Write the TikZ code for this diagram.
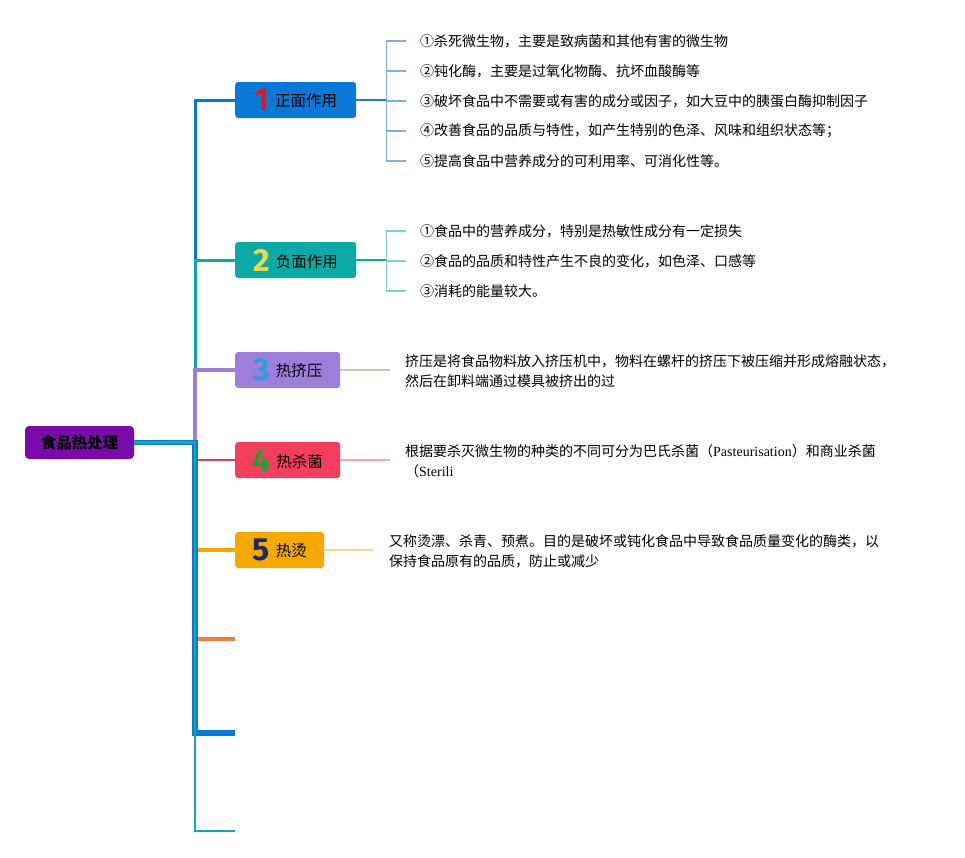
\documentclass[tikz,border=0pt]{standalone}
\usepackage{fontspec}
\usepackage{tikz}
\setmainfont{Noto Sans CJK SC}
\newfontfamily\numfont{Fira Sans}
\newfontfamily\latinserif{Liberation Serif}

\definecolor{rootcol}{HTML}{7A0BA8}
\definecolor{c1}{HTML}{0A78D7}
\definecolor{c2}{HTML}{0AABA5}
\definecolor{c3}{HTML}{9D7FDB}
\definecolor{c4}{HTML}{F53D5E}
\definecolor{c5}{HTML}{F4A800}
\definecolor{c6}{HTML}{F27B3C}
\definecolor{c8}{HTML}{17A6AE}
\definecolor{n1}{HTML}{D91A2A}
\definecolor{n2}{HTML}{F2D84B}
\definecolor{n3}{HTML}{2D9BE5}
\definecolor{n4}{HTML}{2B9B3A}
\definecolor{n5}{HTML}{1F2766}
\definecolor{l4}{HTML}{C8475A}
\definecolor{s1}{HTML}{7DB0DC}
\definecolor{s1dark}{HTML}{2D7CC0}
\definecolor{s2}{HTML}{86D0CC}
\definecolor{s3}{HTML}{C8BFE6}
\definecolor{s4}{HTML}{F2A7B6}
\definecolor{s5}{HTML}{F5D98E}

\newcommand{\topicnum}[2]{\raisebox{-4pt}{\numfont\bfseries\fontsize{32}{32}\selectfont\color{#1}#2}\hspace{6pt}}

\tikzset{
    rootbox/.style={fill=rootcol, rounded corners=4pt, minimum width=109pt, minimum height=33pt, inner sep=0pt, font=\fontsize{15.5}{18}\selectfont\bfseries},
    topic/.style={fill=#1, rounded corners=3pt, minimum height=36pt, inner sep=0pt, anchor=west, font=\fontsize{15.5}{18}\selectfont},
    item/.style={anchor=west, inner sep=0pt, align=left, font=\fontsize{14}{20}\selectfont}
}

\begin{document}
\begin{tikzpicture}[x=1pt,y=-1pt]
    \useasboundingbox[fill=white] (0,0) rectangle (965,857);

    \node[rootbox] (root) at (79.5,442.5) {食品热处理};
    \coordinate (trunk) at (195,442.5);

    \node[topic=c1, minimum width=121pt] (t1) at (235,100) {\topicnum{n1}{1}正面作用};
    \node[topic=c2, minimum width=121pt] (t2) at (235,260) {\topicnum{n2}{2}负面作用};
    \node[topic=c3, minimum width=105pt] (t3) at (235,370) {\topicnum{n3}{3}热挤压};
    \node[topic=c4, minimum width=105pt] (t4) at (235,460) {\topicnum{n4}{4}热杀菌};
    \node[topic=c5, minimum width=89pt] (t5) at (235,550) {\topicnum{n5}{5}热烫};
    \coordinate (e6) at (235,639);
    \coordinate (e7) at (235,733);
    \coordinate (e8) at (235,831);

    \draw[c1, line width=3pt] (root.east) -- (trunk) |- (t1.west);
    \draw[c2, line width=3pt] (root.east) -- (trunk) |- (t2.west);
    \draw[c3, line width=4pt] (root.east) -- (trunk) |- (t3.west);
    \draw[l4, line width=2pt] (root.east) -- (trunk) |- (t4.west);
    \draw[c5, line width=4pt] (root.east) -- (trunk) |- (t5.west);
    \draw[c6, line width=4pt] (root.east) -- (trunk) |- (e6);
    \draw[c1, line width=5.5pt] (root.east) -- (trunk) |- (e7);
    \draw[c8, line width=2.5pt] (root.east) -- (trunk) |- (e8);

    \node[item] (a1) at (420,41) {①杀死微生物，主要是致病菌和其他有害的微生物};
    \node[item] (a2) at (420,71) {②钝化酶，主要是过氧化物酶、抗坏血酸酶等};
    \node[item] (a3) at (420,101) {③破坏食品中不需要或有害的成分或因子，如大豆中的胰蛋白酶抑制因子};
    \node[item] (a4) at (420,131) {④改善食品的品质与特性，如产生特别的色泽、风味和组织状态等；};
    \node[item] (a5) at (420,161) {⑤提高食品中营养成分的可利用率、可消化性等。};

    \draw[s1, line width=1.5pt] (t1.east) -- ++(30,0) |- ([xshift=-14pt]a1.west);
    \draw[s1, line width=1.5pt] (t1.east) -- ++(30,0) |- ([xshift=-14pt]a2.west);
    \draw[s1, line width=1.5pt] (t1.east) -- ++(30,0) |- ([xshift=-14pt]a3.west);
    \draw[s1, line width=1.5pt] (t1.east) -- ++(30,0) |- ([xshift=-14pt]a4.west);
    \draw[s1, line width=1.5pt] (t1.east) -- ++(30,0) |- ([xshift=-14pt]a5.west);
    \draw[s1dark, line width=1.5pt] (t1.east) -- ++(30,0);

    \node[item] (b1) at (420,231) {①食品中的营养成分，特别是热敏性成分有一定损失};
    \node[item] (b2) at (420,261) {②食品的品质和特性产生不良的变化，如色泽、口感等};
    \node[item] (b3) at (420,291) {③消耗的能量较大。};

    \draw[s2, line width=1.5pt] (t2.east) -- ++(30,0) |- ([xshift=-14pt]b1.west);
    \draw[s2, line width=1.5pt] (t2.east) -- ++(30,0) |- ([xshift=-14pt]b2.west);
    \draw[s2, line width=1.5pt] (t2.east) -- ++(30,0) |- ([xshift=-14pt]b3.west);
    \draw[c2, line width=1.5pt] (t2.east) -- ++(30,0);

    \node[item] (x3) at (405,371) {挤压是将食品物料放入挤压机中，物料在螺杆的挤压下被压缩并形成熔融状态，\\然后在卸料端通过模具被挤出的过};
    \node[item] (x4) at (405,461) {根据要杀灭微生物的种类的不同可分为巴氏杀菌（{\latinserif Pasteurisation}）和商业杀菌\\（{\latinserif Sterili}};
    \node[item] (x5) at (389,551) {又称烫漂、杀青、预煮。目的是破坏或钝化食品中导致食品质量变化的酶类，以\\保持食品原有的品质，防止或减少};

    \draw[s3, line width=2pt] (t3.east) -- ([xshift=-15pt]x3.west |- t3.east);
    \draw[s4, line width=2pt] (t4.east) -- ([xshift=-15pt]x4.west |- t4.east);
    \draw[s5, line width=2pt] (t5.east) -- ([xshift=-16pt]x5.west |- t5.east);
\end{tikzpicture}
\end{document}
